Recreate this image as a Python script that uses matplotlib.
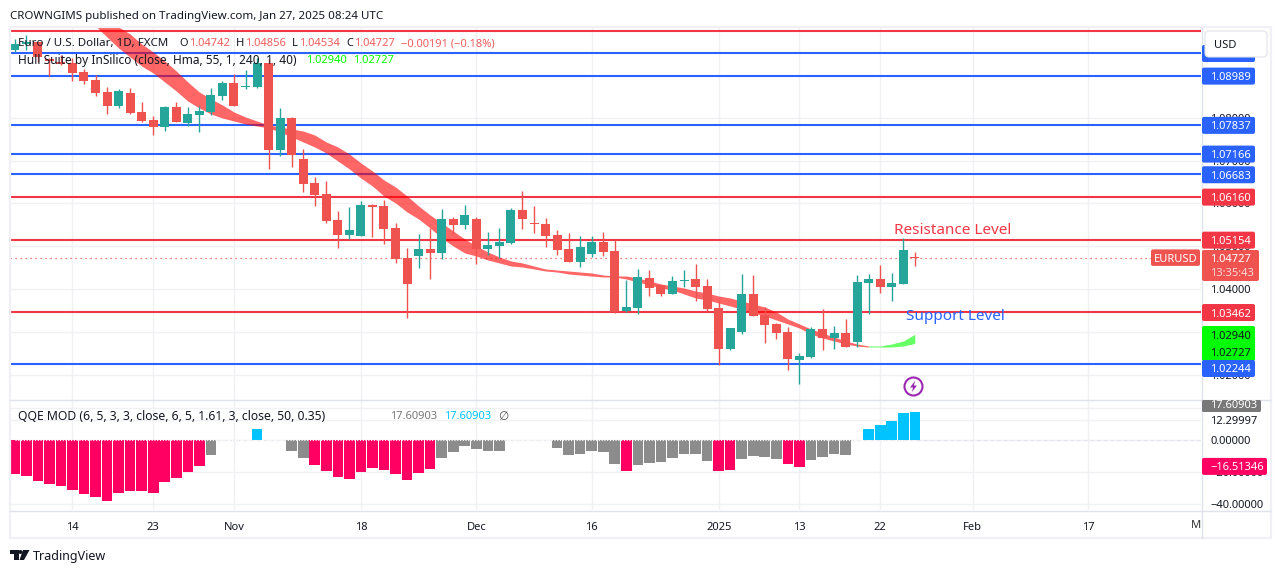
import numpy as np
import matplotlib
matplotlib.use("Agg")
import matplotlib.pyplot as plt
from matplotlib.patches import FancyBboxPatch, Rectangle, Polygon, Circle

# ---------------- data ----------------
opens = [1.09588,1.09728,1.09775,1.09377,1.09307,1.09284,1.09073,1.08886,1.08606,1.08279,
         1.08582,1.08138,1.07951,1.07788,1.08255,1.07881,1.08068,1.08138,1.08512,1.08816,
         1.08723,1.08723,1.09284,1.0725,1.07998,1.07039,1.06478,1.06221,1.05613,1.05263,
         1.05239,1.05964,1.05941,1.05426,1.04725,1.04772,1.04935,1.04842,1.05637,1.05496,
         1.05637,1.04935,1.05005,1.05075,1.05847,1.05543,1.0552,1.05263,1.04935,1.04631,
         1.04818,1.05099,1.04888,1.03486,1.03556,1.04257,1.04094,1.03883,1.04187,1.04234,
         1.0407,1.03556,1.02597,1.02995,1.03883,1.03392,1.03182,1.02995,1.0234,1.0241,
         1.03065,1.02854,1.02971,1.02761,1.0414,1.04234,1.04047,1.04117,1.04742]
highs = [1.09845,1.09939,1.09775,1.09401,1.09471,1.09401,1.09144,1.09003,1.08723,1.08676,
         1.08699,1.08372,1.08045,1.08279,1.08372,1.08255,1.08279,1.08699,1.08863,1.09027,
         1.0912,1.09401,1.09377,1.08232,1.08022,1.07273,1.06619,1.06525,1.05824,1.05917,
         1.06057,1.05987,1.06081,1.05543,1.04959,1.05286,1.05426,1.0587,1.05683,1.05964,
         1.05683,1.05333,1.05426,1.05894,1.06291,1.05941,1.0566,1.05379,1.05309,1.05239,
         1.05239,1.05333,1.05146,1.0421,1.04468,1.04444,1.04094,1.04304,1.04444,1.04585,
         1.04234,1.03719,1.03088,1.04351,1.04327,1.03579,1.03205,1.03112,1.02504,1.03112,
         1.03532,1.03135,1.03299,1.04327,1.04351,1.04561,1.04374,1.05192,1.04856]
lows =  [1.09541,1.09588,1.09307,1.0898,1.09237,1.08863,1.08793,1.08512,1.08092,1.08232,
         1.08092,1.07904,1.076,1.07694,1.07904,1.07811,1.07671,1.08068,1.08419,1.08279,
         1.08676,1.08699,1.06806,1.0711,1.06852,1.06268,1.05941,1.05543,1.04959,1.05169,
         1.05239,1.05216,1.05052,1.04608,1.03322,1.04491,1.04234,1.04701,1.05286,1.05403,
         1.04585,1.04795,1.04725,1.05052,1.05403,1.05309,1.04982,1.04795,1.04631,1.04514,
         1.04748,1.04772,1.03439,1.03462,1.03415,1.03836,1.03836,1.03883,1.04047,1.03719,
         1.03486,1.02223,1.02574,1.02948,1.03369,1.02737,1.02831,1.02106,1.01779,1.02387,
         1.02574,1.02597,1.02644,1.02644,1.03415,1.03906,1.03719,1.04117,1.04534]
closes = [1.09728,1.09775,1.09424,1.09331,1.09261,1.0905,1.08863,1.08582,1.08279,1.08629,
          1.08115,1.07928,1.07788,1.08255,1.07904,1.08092,1.08162,1.08536,1.08816,1.08279,
          1.08746,1.09284,1.0725,1.07998,1.07133,1.06455,1.06198,1.0559,1.05263,1.05379,
          1.05964,1.05917,1.05403,1.04701,1.04117,1.04935,1.04842,1.05637,1.05496,1.0573,
          1.04935,1.05029,1.05099,1.05847,1.05637,1.0552,1.05239,1.04912,1.04631,1.04982,
          1.05099,1.04865,1.03462,1.03579,1.04281,1.04023,1.03883,1.04187,1.0421,1.04047,
          1.03532,1.02597,1.03088,1.03883,1.03369,1.03158,1.02971,1.02363,1.02434,1.03065,
          1.02854,1.02971,1.02644,1.04164,1.04234,1.04047,1.0414,1.04912,1.04727]

hull_first_bar = 7
hull_upper = [1.10523,1.10313,1.10126,1.09962,1.09728,1.09541,1.09331,1.09097,1.0884,1.08606,
              1.08442,1.08302,1.08138,1.08021,1.07928,1.07834,1.07788,1.07741,1.07694,1.076,
              1.07437,1.0732,1.07156,1.06946,1.06759,1.06548,1.06385,1.06174,1.05941,1.0573,
              1.05543,1.05356,1.05169,1.05005,1.04865,1.04748,1.04655,1.04608,1.04538,1.04468,
              1.04444,1.04421,1.04397,1.04374,1.04327,1.04304,1.04304,1.04257,1.04187,1.04117,
              1.0407,1.04023,1.03953,1.03906,1.03836,1.03790,1.03719,1.03649,1.03579,1.03462,
              1.03299,1.03182,1.03065,1.02971,1.02878,1.02784,1.02714,1.02667,1.02667,1.02714,
              1.02784,1.0294]
hull_lower = [1.10149,1.09892,1.09635,1.09424,1.09214,1.0905,1.0884,1.08629,1.08395,1.08232,
              1.08092,1.07998,1.07928,1.07858,1.07811,1.07764,1.07671,1.07554,1.07437,1.0732,
              1.0718,1.06993,1.06806,1.06595,1.06408,1.06174,1.06011,1.058,1.05637,1.05426,
              1.05192,1.05005,1.04842,1.04772,1.04678,1.04608,1.04538,1.04514,1.04468,1.04421,
              1.04397,1.04351,1.04327,1.04304,1.04281,1.04281,1.04234,1.04164,1.04094,1.04023,
              1.03977,1.03883,1.0379,1.03743,1.03673,1.03603,1.03532,1.03439,1.03369,1.03275,
              1.03182,1.03088,1.02948,1.02854,1.02784,1.02714,1.02667,1.02644,1.02644,1.02644,
              1.02667,1.02727]
hull_green_from = 67

red_levels = [1.10032, 1.06160, 1.05154, 1.03462]
blue_levels = [1.09518, 1.08989, 1.07837, 1.07166, 1.06683, 1.02244]
last_price = 1.04727

qqe_values = [-21.2,-22.5,-25.6,-27.5,-28.8,-31.3,-33.8,-35.6,-38.1,-33.1,-31.9,-31.9,-33.1,-26.3,-23.8,-20.0,-16.3,
              -9.4,np.nan,np.nan,np.nan,6.9,np.nan,np.nan,-6.9,-11.3,
              -15.6,-19.4,-23.1,-24.4,-20.0,-17.5,-18.8,-21.3,-25.0,-20.6,-18.1,
              -11.3,-7.5,-3.8,-5.6,-6.9,-6.9,np.nan,np.nan,np.nan,np.nan,
              -5.0,-9.4,-8.8,-6.9,-7.5,-15.0,-19.4,-15.6,-14.4,-13.8,-11.3,-8.8,-8.8,-13.1,
              -19.4,-18.8,-11.9,-10.0,-10.6,-11.9,-15.0,-16.9,-12.5,-10.6,-8.8,-9.4,np.nan,
              6.9,9.4,11.9,16.9,17.609]
qqe_state = list("p"*17 + "g" + "xxx" + "b" + "xx" + "gg" + "p"*11 + "g"*6 + "xxxx" + "g"*6 + "p"
                 + "g"*7 + "pp" + "gggg" + "pp" + "gggg" + "x" + "b"*5)

x_tick_bars = [5, 12, 19, 30, 40, 50, 61, 68, 75, 83, 93]
x_tick_labels = ["14", "23", "Nov", "18", "Dec", "16", "2025", "13", "22", "Feb", "17"]
price_ticks = [1.02, 1.03, 1.04, 1.05, 1.06, 1.07, 1.08]
qqe_ticks = [-40, -20, 0, 12.29997]

# ---------------- layout ----------------
W, H = 1281, 573
FONT = "Noto Sans"
plt.rcParams["font.family"] = [FONT, "DejaVu Sans"]
TXT = "#131722"
UP, DOWN = "#26A69A", "#EF5350"
RED, BLUE = "#F23645", "#2962FF"
GRID = "#F0F1F4"
BORDER = "#E0E3EB"
FS = 8.0

fig = plt.figure(figsize=(W / 100, H / 100), dpi=100, facecolor="white")

def rect(l, t, r, b):
    return [l / W, 1 - b / H, (r - l) / W, (b - t) / H]

ax = fig.add_axes(rect(10, 27, 1201, 399))
axq = fig.add_axes(rect(10, 399, 1201, 510))
bx = np.arange(len(opens))
xlim = (-0.41, 102.8)
for a in (ax, axq):
    a.set_xlim(*xlim)
    a.set_xticks(x_tick_bars)
    a.grid(True, color=GRID, lw=1.0, zorder=0)
    a.set_axisbelow(True)
    for s in a.spines.values():
        s.set_visible(False)
    a.tick_params(length=0, colors=TXT, labelsize=FS)
    a.yaxis.tick_right()

ax.set_ylim(1.04 - 110 / 4277, 1.04 + 262 / 4277)
ax.set_yticks(price_ticks)
ax.set_yticklabels([f"{v:.5f}" for v in price_ticks])
ax.tick_params(axis="y", pad=6.5)
ax.tick_params(axis="x", labelbottom=False)

# level lines
for v in red_levels:
    ax.axhline(v, color=RED, lw=1.5, zorder=1)
for v in blue_levels:
    ax.axhline(v, color=BLUE, lw=1.5, zorder=1)
ax.plot([xlim[0], 98.5], [last_price] * 2, color=DOWN, lw=0.9, ls=(0, (1, 3)), zorder=1)

# Hull band
hx = np.arange(hull_first_bar, hull_first_bar + len(hull_upper))
hu, hl = np.array(hull_upper), np.array(hull_lower)
g = hull_green_from
ax.fill_between(hx[:g + 1], hl[:g + 1], hu[:g + 1], color="#FF0000", alpha=0.6, lw=0, zorder=2)
ax.fill_between(hx[g:], hl[g:], hu[g:], color="#00FF00", alpha=0.6, lw=0, zorder=2)

# candles
o, h_, l_, c = map(np.array, (opens, highs, lows, closes))
cols = [UP if cc >= oo else DOWN for oo, cc in zip(o, c)]
ax.vlines(bx, l_, h_, colors=cols, lw=1.0, zorder=3)
body = np.maximum(np.abs(c - o), 0.00025)
ax.bar(bx, body, bottom=np.minimum(o, c), width=0.78, color=cols, lw=0, zorder=4)

ax.text(76.2, 1.05544, "Resistance Level", color=RED, fontsize=11.0, va="top", ha="left", zorder=6)
ax.text(77.2, 1.03355, "Support Level", color=BLUE, fontsize=11.0, va="center", ha="left", zorder=6)

# QQE pane
axq.set_ylim(-43.75, 25.6)
axq.set_yticks(qqe_ticks)
axq.set_yticklabels(["\u221240.00000", "\u221220.00000", "0.00000", "12.29997"])
axq.tick_params(axis="y", pad=6.5)
axq.set_xticklabels(x_tick_labels)
axq.tick_params(axis="x", pad=8.5)
for lab, t in zip(axq.get_xticklabels(), x_tick_labels):
    if t == "2025":
        lab.set_fontweight("bold")
state_color = {"p": "#FF0062", "g": "#8C8C8C", "b": "#00C3FF", "x": "none"}
qv = np.nan_to_num(np.array(qqe_values))
axq.bar(np.arange(len(qv)), qv, width=0.92, color=[state_color[s] for s in qqe_state], lw=0, zorder=3)
axq.axhline(0, color=BORDER, lw=0.8, ls=(0, (3, 3)), zorder=2)
axq.plot(np.arange(len(qv)), np.zeros(len(qv)), color="white", lw=0.8, ls=(0, (1, 1.5)), zorder=4)
axq.set_yticks([-20, 20], minor=True)
axq.grid(True, which="minor", axis="y", color=GRID, lw=1.0)
axq.tick_params(which="minor", length=0)

# ---------------- overlay in pixel space ----------------
ov = fig.add_axes([0, 0, 1, 1], facecolor="none")
ov.set_xlim(0, W)
ov.set_ylim(H, 0)
ov.axis("off")

def price_y(v):
    return H - ax.transData.transform((0, v))[1]

def qqe_y(v):
    return H - axq.transData.transform((0, v))[1]

def T(x, y, s, color=TXT, fs=FS, ha="left", va="center_baseline", **kw):
    ov.text(x, y, s, color=color, fontsize=fs, ha=ha, va=va, **kw)

def box(l, t, r, b, fc, rad=2.0, z=5):
    ov.add_patch(FancyBboxPatch((l + rad, t + rad), r - l - 2 * rad, b - t - 2 * rad,
                                boxstyle=f"round,pad={rad},rounding_size={rad}",
                                fc=fc, ec="none", zorder=z))

def price_label(v, fc, y=None):
    y = price_y(v) + 0.5 if y is None else y
    box(1202, y - 8.5, 1255, y + 8.5, fc)
    T(1210, y, f"{v:.5f}", color="white", zorder=6)

# frame
ov.add_patch(Rectangle((9.5, 26.5), 1261.5, 511.5, fc="none", ec="#F0F0F6", lw=1.6, zorder=1))
ov.plot([10, 1271], [399.5, 399.5], color=BORDER, lw=1.0, zorder=1)
ov.plot([10, 1271], [510.5, 510.5], color=BORDER, lw=1.0, zorder=1)
ov.plot([1201.5, 1201.5], [27, 538], color=BORDER, lw=1.0, zorder=1)

# right-hand labels
for v in red_levels[1:]:
    price_label(v, RED)
for v in blue_levels[:-1]:
    price_label(v, BLUE)

y = price_y(last_price)
box(1151, y - 8.5, 1200, y + 8, DOWN)
T(1175.5, y, "EURUSD", color="white", ha="center", zorder=6)
box(1202, 250, 1259, 281, DOWN)
T(1210, 258.5, "1.04727", color="white", zorder=6)
T(1210, 272.5, "13:35:43", color="#FBD5D5", zorder=6)

box(1202, 326, 1255, 361, "#00FF00")
T(1210, 335, "1.02940", color=TXT, zorder=6)
T(1210, 352, "1.02727", color=TXT, zorder=6)
price_label(1.02244, BLUE, y=368.5)

box(1202, 400, 1261, 412, "#787878", rad=1.5)
T(1210, 404, "17.60903", color="white", zorder=6)
yq = qqe_y(-16.51346)
box(1202, yq - 8.5, 1267, yq + 8.5, "#FF0062")
T(1210, yq, "\u221216.51346", color="white", zorder=6)

# USD button
ov.add_patch(FancyBboxPatch((1208, 34), 56, 20, boxstyle="round,pad=3,rounding_size=4",
                            fc="white", ec=BORDER, lw=0.8, zorder=7))
T(1214, 43.5, "USD", zorder=8)

# header and legends
T(10, 14.5, "CROWNGIMS published on TradingView.com, Jan 27, 2025 08:24 UTC", fs=8.32)
T(18, 42, "Euro / U.S. Dollar, 1D, FXCM", fs=8.32, zorder=6)
VAL = "#F15B5B"
for x, s, col in [(179, "O", TXT), (189, "1.04742", VAL), (236, "H", TXT), (245, "1.04856", VAL),
                  (292, "L", TXT), (299, "1.04534", VAL), (346, "C", TXT), (354, "1.04727", VAL),
                  (401, "\u22120.00191 (\u22120.18%)", VAL)]:
    T(x, 42, s, color=col, zorder=6)
T(18, 59, "Hull Suite by InSilico (close, Hma, 55, 1, 240, 1, 40)", fs=8.58, zorder=6)
T(306, 59, "1.02940", color="#00FF00", zorder=6)
T(353, 59, "1.02727", color="#00FF00", zorder=6)
T(18, 415, "QQE MOD (6, 5, 3, 3, close, 6, 5, 1.61, 3, close, 50, 0.35)", fs=8.78, zorder=6)
T(390, 415, "17.60903", color="#787878", zorder=6)
T(444, 415, "17.60903", color="#00C3FF", zorder=6)
T(503, 415, "\u2205", color="#555555", ha="center", fs=8.5, family="DejaVu Sans", zorder=6)
T(1196.5, 523.5, "M", ha="center", fs=FS, color="#333333")

# purple badge
ov.add_patch(Circle((913.5, 386.5), 9, fc="white", ec="#9C27B0", lw=1.5, zorder=6))
ov.add_patch(Polygon([(915, 381), (910, 387.5), (913, 387.5), (912, 392), (917, 385.5), (914, 385.5)],
                     closed=True, fc="#9C27B0", ec="none", zorder=7))

# TradingView logo
ov.add_patch(Polygon([(10, 550), (18.5, 550), (18.5, 560), (14, 560), (14, 554), (10, 554)],
                     closed=True, fc=TXT, ec="none"))
ov.add_patch(Circle((20.5, 552), 2, fc=TXT, ec="none"))
ov.add_patch(Polygon([(23, 550), (29.5, 550), (24, 560), (19.5, 560)], closed=True, fc=TXT, ec="none"))
T(33, 555, "TradingView", fs=9.0)

fig.savefig("out.png", dpi=100, facecolor="white")
